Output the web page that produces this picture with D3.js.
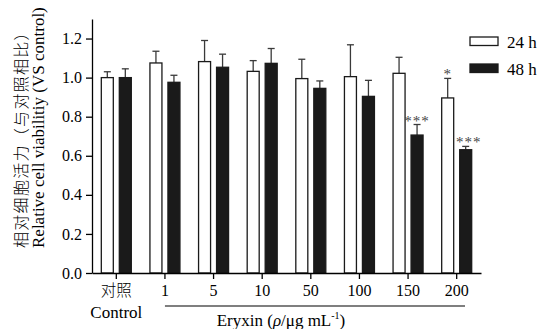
<!DOCTYPE html>
<html>
<head>
<meta charset="utf-8">
<script src="https://cdn.jsdelivr.net/npm/d3@7"></script>
<style>
  body { margin: 0; background: #fff; }
  svg { display: block; }
</style>
</head>
<body>
<svg id="chart" width="543" height="329"></svg>
<script>
// data
const categories = ['Control', '1', '5', '10', '50', '100', '150', '200'];
const seriesNames = ['24 h', '48 h'];
const mean24 = [1.00, 1.075, 1.082, 1.032, 0.995, 1.005, 1.022, 0.896];
const err24  = [0.03, 0.06, 0.108, 0.055, 0.099, 0.163, 0.082, 0.10];
const mean48 = [1.00, 0.976, 1.053, 1.073, 0.945, 0.904, 0.706, 0.631];
const err48  = [0.045, 0.036, 0.067, 0.076, 0.038, 0.082, 0.054, 0.017];
const sig24 = ['', '', '', '', '', '', '', '*'];
const sig48 = ['', '', '', '', '', '', '***', '***'];
const yTicks = [0, 0.2, 0.4, 0.6, 0.8, 1.0, 1.2];

const SERIF = '"Liberation Serif", "Times New Roman", serif';
const CJK = '"Noto Sans CJK SC", sans-serif';

const svg = d3.select('#chart');
const colors = ['#ffffff', '#1a1a1a'];

const x = d3.scaleBand().domain(categories).range([92, 481]);
const xInner = d3.scaleBand().domain(seriesNames).range([-15, 15]).paddingInner(1 / 3);
const y = d3.scaleLinear().domain([0, 1.3]).range([273, 19]);

const rows = [];
categories.forEach((c, i) => {
  rows.push({ cat: c, s: seriesNames[0], v: mean24[i], e: err24[i], sig: sig24[i], k: 0 });
  rows.push({ cat: c, s: seriesNames[1], v: mean48[i], e: err48[i], sig: sig48[i], k: 1 });
});
const bx = d => x(d.cat) + x.bandwidth() / 2 + xInner(d.s);
const mid = d => bx(d) + xInner.bandwidth() / 2;

// error bars (upward only)
const eb = svg.append('g').attr('stroke', '#3a3a3a').attr('stroke-width', 1.3);
eb.selectAll('line.v').data(rows).enter().append('line')
  .attr('x1', mid).attr('x2', mid)
  .attr('y1', d => y(d.v)).attr('y2', d => y(d.v + d.e));
eb.selectAll('line.c').data(rows).enter().append('line')
  .attr('x1', d => mid(d) - 3.5).attr('x2', d => mid(d) + 3.5)
  .attr('y1', d => y(d.v + d.e)).attr('y2', d => y(d.v + d.e));

// bars
svg.append('g').selectAll('rect').data(rows).enter().append('rect')
  .attr('x', d => bx(d)).attr('width', xInner.bandwidth())
  .attr('y', d => y(d.v)).attr('height', d => y(0) - y(d.v))
  .attr('fill', d => colors[d.k]).attr('stroke', '#1a1a1a').attr('stroke-width', 1.3);

// significance stars
svg.append('g').selectAll('text').data(rows.filter(d => d.sig)).enter().append('text')
  .style('font-family', SERIF)
  .attr('x', d => mid(d) + (d.k === 1 && d.cat === '200' ? 3 : 0))
  .attr('y', d => y(d.v + d.e) + 1)
  .attr('text-anchor', 'middle').attr('font-size', 15).attr('fill', '#444')
  .attr('letter-spacing', 1)
  .text(d => d.sig);

// axes
const yAxis = svg.append('g').attr('transform', 'translate(92,0)')
  .call(d3.axisLeft(y).tickValues(yTicks).tickFormat(d3.format('.1f')).tickSize(6).tickSizeOuter(0));
yAxis.selectAll('text').style('font-family', SERIF).attr('font-size', 16).attr('fill', '#000').attr('dx', '-1');
yAxis.selectAll('line, path').attr('stroke', '#000').attr('stroke-width', 1.3);

const xAxis = svg.append('g').attr('transform', 'translate(0,273)')
  .call(d3.axisBottom(x).tickSize(6).tickSizeOuter(0).tickFormat(d => d === 'Control' ? '对照' : d));
xAxis.selectAll('line, path').attr('stroke', '#000').attr('stroke-width', 1.3);
xAxis.selectAll('text').attr('fill', '#000').attr('dy', '0.71em')
  .style('font-family', d => d === 'Control' ? CJK : SERIF)
  .style('font-weight', d => d === 'Control' ? 300 : 400)
  .attr('font-size', d => d === 'Control' ? 15.5 : 16)
  .attr('y', 12);

svg.append('text').style('font-family', SERIF)
  .attr('x', x('Control') + x.bandwidth() / 2).attr('y', 318)
  .attr('text-anchor', 'middle').attr('font-size', 17).text('Control');

// underline for the Eryxin group
svg.append('line').attr('x1', x('1') + x.bandwidth() / 2).attr('x2', 465)
  .attr('y1', 306).attr('y2', 306).attr('stroke', '#000').attr('stroke-width', 1.2);

const xt = svg.append('text').style('font-family', SERIF).attr('x', 281).attr('y', 326)
  .attr('text-anchor', 'middle').attr('font-size', 17);
xt.append('tspan').text('Eryxin (');
xt.append('tspan').attr('font-style', 'italic').text('ρ');
xt.append('tspan').text('/μg mL');
xt.append('tspan').attr('font-size', 10).attr('dy', -7).text('-1');
xt.append('tspan').attr('dy', 7).text(')');

// y titles
svg.append('text').style('font-family', CJK).style('font-weight', 300)
  .attr('transform', 'translate(27,248) rotate(-90)')
  .attr('font-size', 16).attr('letter-spacing', 1.3).text('相对细胞活力（与对照相比）');
svg.append('text').style('font-family', SERIF)
  .attr('transform', 'translate(44,248) rotate(-90)')
  .attr('font-size', 17).text('Relative cell viabilitiy (VS control)');

// legend
const lg = svg.append('g');
seriesNames.forEach((s, i) => {
  lg.append('rect').attr('x', 470).attr('y', 37 + i * 27).attr('width', 28).attr('height', 8.5)
    .attr('fill', colors[i]).attr('stroke', '#1a1a1a').attr('stroke-width', 1.3);
  lg.append('text').style('font-family', SERIF).attr('x', 507).attr('y', 47.5 + i * 27)
    .attr('font-size', 17).text(s);
});
</script>
</body>
</html>
